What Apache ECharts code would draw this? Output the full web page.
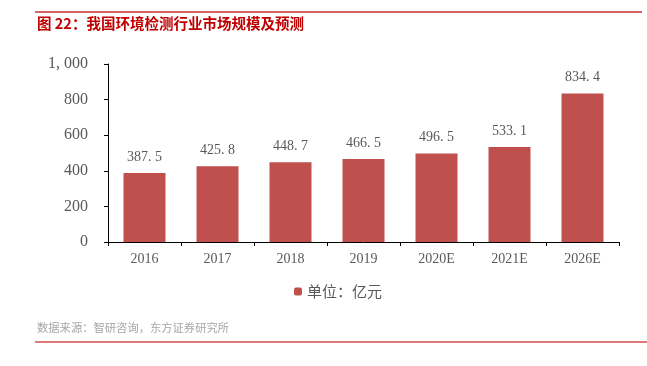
<!DOCTYPE html>
<html>
<head>
    <meta charset="utf-8">
    <title>我国环境检测行业市场规模及预测</title>
    <script src="https://cdn.jsdelivr.net/npm/echarts@6/dist/echarts.min.js"></script>
</head>
<body style="margin:0;">
    <div id="main" style="width:647px;height:366px;"></div>
    <script type="text/javascript">
        var years = ['2016', '2017', '2018', '2019', '2020E', '2021E', '2026E'];
        var marketSize = [387.5, 425.8, 448.7, 466.5, 496.5, 533.1, 834.4];
        var yTicks = [0, 200, 400, 600, 800, 1000];
        var seriesName = '单位：亿元';

        var myChart = echarts.init(document.getElementById('main'));
        var serif = '"Liberation Serif", "DejaVu Serif", "Noto Sans CJK SC", serif';

        var option = {
            backgroundColor: '#fff',
            animation: false,
            grid: { left: 108, right: 28, top: 64, bottom: 124 },
            legend: {
                data: [seriesName],
                left: 289,
                top: 279,
                itemWidth: 8,
                itemHeight: 8,
                itemGap: 4,
                textStyle: { color: '#595959', fontSize: 15, fontFamily: '"Noto Sans CJK SC", sans-serif' }
            },
            xAxis: {
                type: 'category',
                data: years,
                axisLine: { lineStyle: { color: '#000', width: 1 } },
                axisTick: { show: true, length: 4, lineStyle: { color: '#000' } },
                axisLabel: { color: '#595959', fontSize: 14, fontFamily: serif, margin: 10 }
            },
            yAxis: {
                type: 'value',
                min: yTicks[0],
                max: yTicks[yTicks.length - 1],
                interval: 200,
                splitLine: { show: false },
                axisLine: { show: true, lineStyle: { color: '#000', width: 1 } },
                axisTick: { show: true, length: 4, lineStyle: { color: '#000' } },
                axisLabel: {
                    color: '#595959', fontSize: 16, fontFamily: serif, margin: 20,
                    formatter: function (v) {
                        return v >= 1000 ? (Math.floor(v / 1000) + ', ' + String(v % 1000).padStart(3, '0')) : String(v);
                    }
                }
            },
            series: [{
                name: seriesName,
                type: 'bar',
                data: marketSize,
                barWidth: 42,
                itemStyle: { color: '#C0504D' },
                label: {
                    show: true,
                    position: 'top',
                    distance: 9,
                    color: '#595959',
                    fontSize: 14,
                    fontFamily: serif,
                    formatter: function (p) { return p.value.toFixed(1).replace('.', '. '); }
                }
            }],
            graphic: [
                { type: 'line', shape: { x1: 35, y1: 12, x2: 642, y2: 12 }, style: { stroke: '#C8322D', lineWidth: 1.5 } },
                { type: 'text', left: 37, top: 16, style: { text: '图 22：我国环境检测行业市场规模及预测', fill: '#C00000', fontSize: 14.5, fontWeight: 'bold', fontFamily: '"Noto Sans CJK SC", sans-serif' } },
                { type: 'text', left: 37, top: 322, style: { text: '数据来源：智研咨询，东方证券研究所', fill: '#A6A6A6', fontSize: 11.3, fontFamily: '"Noto Sans CJK SC", sans-serif' } },
                { type: 'line', shape: { x1: 35, y1: 342, x2: 647, y2: 342 }, style: { stroke: '#E07A7A', lineWidth: 2 } }
            ]
        };

        myChart.setOption(option);
    </script>
</body>
</html>
